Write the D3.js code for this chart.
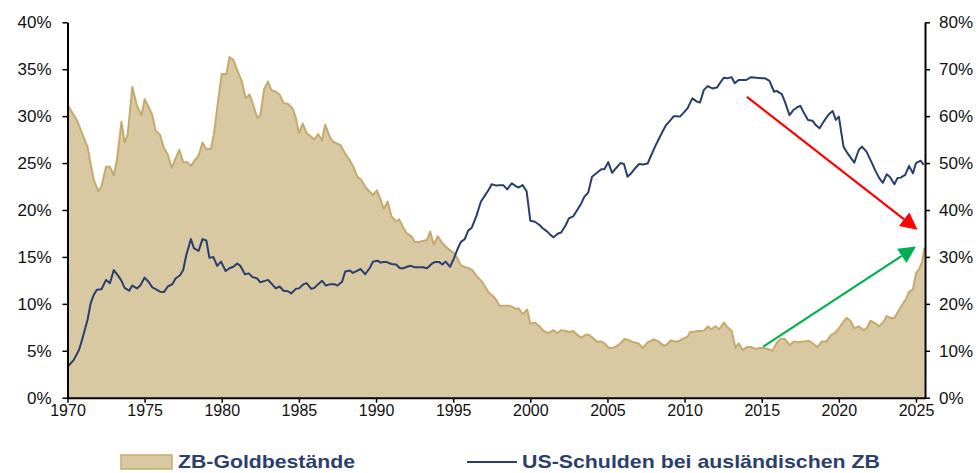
<!DOCTYPE html>
<html><head><meta charset="utf-8">
<script src="https://cdn.jsdelivr.net/npm/d3@7/dist/d3.min.js"></script>
<style>
html,body{margin:0;padding:0;background:#fff;}
svg{display:block;font-family:"Liberation Sans",Arial,sans-serif;}
</style></head><body>
<svg id="c" width="979" height="473"></svg>
<script>
// ---- data ----
const goldYears = [1970.0,1970.6,1971.3,1971.7,1972.0,1972.2,1972.5,1972.75,1973.0,1973.2,1973.5,1973.7,1973.9,1974.2,1974.5,1974.8,1975.0,1975.25,1975.5,1975.7,1976.0,1976.25,1976.5,1976.75,1977.0,1977.25,1977.5,1977.75,1978.0,1978.25,1978.5,1978.75,1979.0,1979.3,1979.5,1979.8,1980.0,1980.3,1980.5,1980.75,1981.0,1981.3,1981.55,1981.8,1982.0,1982.3,1982.5,1982.75,1983.0,1983.2,1983.5,1983.75,1984.0,1984.3,1984.6,1984.8,1985.0,1985.25,1985.5,1985.8,1986.0,1986.25,1986.5,1986.7,1987.0,1987.2,1987.45,1987.7,1988.0,1988.3,1988.5,1988.8,1989.0,1989.3,1989.5,1989.8,1990.05,1990.3,1990.5,1990.75,1991.0,1991.3,1991.5,1991.8,1992.0,1992.3,1992.5,1992.8,1993.0,1993.3,1993.5,1993.75,1994.0,1994.25,1994.5,1994.8,1995.05,1995.26,1995.5,1995.8,1996.0,1996.25,1996.5,1996.8,1997.05,1997.3,1997.6,1997.8,1998.0,1998.3,1998.6,1998.8,1999.0,1999.25,1999.5,1999.8,2000.0,2000.3,2000.6,2000.8,2001.1,2001.3,2001.5,2001.75,2002.0,2002.3,2002.5,2002.8,2003.0,2003.3,2003.6,2003.8,2004.1,2004.3,2004.6,2004.8,2005.1,2005.3,2005.6,2005.85,2006.1,2006.35,2006.7,2007.0,2007.3,2007.6,2008.0,2008.3,2008.6,2008.8,2009.1,2009.4,2009.6,2009.9,2010.2,2010.35,2010.6,2010.8,2011.1,2011.3,2011.5,2011.75,2012.0,2012.25,2012.55,2012.8,2013.05,2013.3,2013.5,2013.75,2014.05,2014.3,2014.6,2014.85,2015.1,2015.4,2015.7,2015.96,2016.2,2016.5,2016.8,2017.1,2017.4,2017.7,2018.1,2018.3,2018.6,2018.9,2019.2,2019.5,2019.75,2020.0,2020.3,2020.5,2020.75,2021.0,2021.3,2021.6,2021.8,2022.05,2022.4,2022.6,2022.9,2023.1,2023.35,2023.6,2023.85,2024.1,2024.35,2024.55,2024.8,2025.0,2025.2,2025.4,2025.55];
const goldValues = [31.2,29.6,26.7,23.2,22.0,22.5,24.6,24.6,23.7,25.3,29.4,27.2,28.0,33.1,31.1,30.1,31.8,31.0,30.1,28.5,28.0,26.6,25.9,24.5,25.5,26.4,25.1,25.1,24.7,25.3,25.8,27.2,26.5,26.5,28.2,32.1,34.5,34.5,36.3,36.0,34.9,33.7,31.9,32.3,31.4,29.8,30.1,32.9,33.7,32.8,32.6,32.3,31.4,31.3,30.8,29.8,28.2,29.2,28.2,27.8,27.5,28.1,27.4,29.1,27.8,27.3,27.1,26.9,26.0,25.3,24.7,23.5,23.3,22.5,22.1,21.6,22.1,21.1,20.1,20.9,19.3,18.8,19.0,18.0,17.5,17.2,16.6,16.6,16.7,16.8,17.7,16.3,17.2,16.6,16.1,15.7,15.4,14.9,14.1,13.9,13.8,13.6,13.0,12.5,11.9,11.2,10.8,10.4,9.8,9.8,9.8,9.7,9.5,9.5,8.9,9.4,7.9,8.0,7.6,7.2,6.9,7.0,7.2,6.9,7.2,7.1,7.0,7.1,6.75,6.4,6.7,6.7,6.3,6.0,6.0,5.8,5.3,5.3,5.5,5.8,6.25,6.15,5.9,5.8,5.3,5.9,6.2,6.0,5.6,5.6,6.1,6.0,6.0,6.3,6.5,7.0,7.0,7.1,7.1,7.2,7.6,7.3,7.6,7.3,8.0,7.5,7.1,5.3,5.8,5.1,5.4,5.4,5.2,5.3,5.3,5.2,5.0,5.8,6.25,6.25,5.6,6.0,5.9,6.0,6.05,5.8,5.4,6.0,6.0,6.7,6.9,7.4,8.1,8.5,8.2,7.4,7.6,7.2,7.4,8.2,7.9,7.6,8.1,8.7,8.5,8.5,9.2,9.9,10.5,11.3,11.55,13.25,13.7,14.5,16.0];

const debtYears = [1970.0,1970.4,1970.75,1971.0,1971.3,1971.5,1971.7,1971.9,1972.2,1972.5,1972.75,1973.0,1973.3,1973.5,1973.7,1974.0,1974.2,1974.5,1974.7,1975.0,1975.25,1975.5,1975.8,1976.0,1976.25,1976.5,1976.8,1977.0,1977.3,1977.5,1977.7,1978.0,1978.2,1978.5,1978.75,1979.0,1979.2,1979.45,1979.7,1979.95,1980.25,1980.5,1980.75,1981.0,1981.2,1981.5,1981.75,1982.0,1982.3,1982.5,1982.8,1983.0,1983.2,1983.5,1983.75,1984.0,1984.3,1984.5,1984.8,1985.0,1985.3,1985.5,1985.8,1986.0,1986.25,1986.5,1986.75,1987.05,1987.3,1987.5,1987.8,1988.0,1988.3,1988.5,1988.8,1989.0,1989.3,1989.6,1989.8,1990.1,1990.3,1990.5,1990.7,1991.0,1991.3,1991.55,1991.8,1992.0,1992.25,1992.5,1992.85,1993.05,1993.3,1993.6,1993.8,1994.1,1994.3,1994.5,1994.8,1995.05,1995.3,1995.5,1995.75,1995.97,1996.2,1996.5,1996.8,1997.0,1997.3,1997.5,1997.8,1998.0,1998.25,1998.5,1998.8,1999.05,1999.25,1999.5,1999.76,2000.0,2000.3,2000.6,2000.8,2001.1,2001.3,2001.5,2001.8,2002.0,2002.3,2002.5,2002.8,2003.0,2003.3,2003.5,2003.75,2004.0,2004.3,2004.6,2004.8,2005.05,2005.3,2005.55,2005.85,2006.07,2006.3,2006.56,2006.8,2007.05,2007.3,2007.6,2007.8,2008.1,2008.35,2008.6,2008.8,2009.1,2009.3,2009.5,2009.7,2009.9,2010.2,2010.5,2010.8,2011.0,2011.25,2011.5,2011.8,2012.1,2012.3,2012.55,2012.8,2013.05,2013.25,2013.5,2013.75,2014.0,2014.3,2014.65,2015.0,2015.2,2015.5,2015.8,2015.96,2016.3,2016.5,2016.8,2017.05,2017.3,2017.5,2017.75,2018.0,2018.3,2018.5,2018.75,2019.05,2019.35,2019.6,2019.8,2020.0,2020.3,2020.5,2020.8,2021.0,2021.3,2021.5,2021.8,2022.1,2022.35,2022.6,2022.85,2023.1,2023.3,2023.6,2023.8,2024.0,2024.3,2024.55,2024.8,2025.0,2025.3,2025.5];
const debtValues = [6.6,8.0,10.2,13.0,16.6,20.1,21.9,23.0,23.1,25.1,24.4,27.2,25.9,24.9,23.4,22.8,23.9,23.3,23.8,25.6,24.7,23.5,23.0,22.6,22.5,23.7,24.2,25.4,26.1,27.2,30.4,33.8,31.8,31.3,33.8,33.5,29.8,30.0,28.1,29.0,27.0,27.6,27.9,28.6,28.1,26.3,26.5,25.7,25.4,24.6,24.9,25.1,24.4,23.3,23.7,22.8,22.7,22.2,23.2,23.3,24.2,24.4,23.2,23.4,24.2,24.9,23.9,24.2,24.2,23.9,24.7,26.9,27.1,26.6,27.1,27.4,26.3,27.7,29.0,29.2,28.8,28.9,28.9,28.5,28.4,27.6,27.6,27.9,28.1,27.8,27.8,27.8,27.6,28.5,28.9,28.9,28.4,29.0,27.9,29.7,31.8,33.2,33.8,35.6,36.2,38.7,41.8,42.8,44.3,45.5,45.2,45.3,45.3,44.4,45.7,45.1,44.8,45.3,44.0,37.7,37.5,36.8,36.1,35.4,34.7,34.2,35.0,35.2,36.8,38.2,38.7,39.8,41.4,42.8,43.7,47.1,47.9,48.7,48.7,50.2,47.9,48.9,50.0,49.8,47.1,47.9,48.9,49.8,49.7,49.9,51.4,53.6,55.3,56.9,58.1,59.2,60.0,60.0,59.9,60.6,61.7,63.8,63.1,62.9,65.6,66.4,65.9,66.1,67.1,68.2,68.1,68.3,67.0,67.7,67.7,67.7,68.3,68.2,68.1,68.1,67.5,65.2,65.4,64.7,63.1,60.2,61.3,61.9,62.2,60.6,59.2,59.0,58.1,57.4,59.0,60.4,61.1,59.2,59.9,53.5,52.4,51.0,50.1,52.9,53.5,52.4,50.3,48.5,46.9,45.8,47.6,47.1,45.5,46.8,46.9,47.5,49.4,47.8,50.0,50.5,49.6];

const xTickYears = [1970,1975,1980,1985,1990,1995,2000,2005,2010,2015,2020,2025];
const leftTicks = [0,5,10,15,20,25,30,35,40];
const rightTicks = [0,10,20,30,40,50,60,70,80];
const legendLabels = ["ZB-Goldbestände","US-Schulden bei ausländischen ZB"];
// arrow annotations: [x0 year, right-axis %, x1 year, right-axis %]
const redArrow = [2014.04, 64.1, 2025.1, 35.8];
const greenArrow = [2015.1, 10.9, 2025.0, 32.2];

// ---- layout ----
const X0 = 67.5, X1 = 925, YT = 22.3, YB = 397.7;
const xDomainMax = 1970 + (X1 - X0) / ((916 - 67.5) / 55);
const x = d3.scaleLinear().domain([1970, xDomainMax]).range([X0, X1]);
const yL = d3.scaleLinear().domain([0, 40]).range([YB, YT]);
const yR = d3.scaleLinear().domain([0, 80]).range([YB, YT]);

const svg = d3.select("#c");
const GOLD_FILL = "#d8c9a3", GOLD_LINE = "#c5aa6c", NAVY = "#283e6d";

const gold = goldYears.map((y, i) => [y, goldValues[i]]);
const debt = debtYears.map((y, i) => [y, debtValues[i]]);

svg.append("path").datum(gold)
  .attr("d", d3.area().x(d => x(d[0])).y0(YB).y1(d => yL(d[1])))
  .attr("fill", GOLD_FILL);
svg.append("path").datum(gold)
  .attr("d", d3.line().x(d => x(d[0])).y(d => yL(d[1])))
  .attr("fill", "none").attr("stroke", GOLD_LINE).attr("stroke-width", 2).attr("stroke-linejoin", "round");

svg.append("path").datum(debt)
  .attr("d", d3.line().x(d => x(d[0])).y(d => yR(d[1])))
  .attr("fill", "none").attr("stroke", NAVY).attr("stroke-width", 2).attr("stroke-linejoin", "round");

// arrows
function arrow(a, color) {
  const x0 = x(a[0]), y0 = yR(a[1]), x1 = x(a[2]), y1 = yR(a[3]);
  const ang = Math.atan2(y1 - y0, x1 - x0);
  const L = 17, W = 8.5;
  const bx = x1 - L * Math.cos(ang), by = y1 - L * Math.sin(ang);
  svg.append("line").attr("x1", x0).attr("y1", y0).attr("x2", bx).attr("y2", by)
    .attr("stroke", color).attr("stroke-width", 2.2);
  const px = -Math.sin(ang), py = Math.cos(ang);
  svg.append("path")
    .attr("d", `M${x1},${y1}L${bx + W * px},${by + W * py}L${bx - W * px},${by - W * py}Z`)
    .attr("fill", color);
}
arrow(redArrow, "#ff0000");
arrow(greenArrow, "#00b050");

// axes
const gx = svg.append("g").attr("transform", `translate(0,${YB})`)
  .call(d3.axisBottom(x).tickValues(xTickYears).tickFormat(d3.format("d")).tickSize(5).tickSizeOuter(0));
const gl = svg.append("g").attr("transform", `translate(${X0},0)`)
  .call(d3.axisLeft(yL).tickValues(leftTicks).tickFormat(d => d + "%").tickSize(5).tickSizeOuter(0));
const gr = svg.append("g").attr("transform", `translate(${X1},0)`)
  .call(d3.axisRight(yR).tickValues(rightTicks).tickFormat(d => d + "%").tickSize(5).tickSizeOuter(0));
[gx, gl, gr].forEach(g => {
  g.select(".domain").attr("stroke", "#000").attr("stroke-width", 2);
  g.selectAll(".tick line").attr("stroke", "#000").attr("stroke-width", 1.5);
  g.selectAll("text").attr("fill", "#111")
    .style("font-family", "'Liberation Sans', Arial, sans-serif");
});
gx.selectAll("text").style("font-size", "16px").attr("dy", "0.71em").attr("y", 7);
gl.selectAll("text").style("font-size", "17px").attr("x", -16);
gr.selectAll("text").style("font-size", "17px").attr("x", 14);

// legend
const lg = svg.append("g");
lg.append("rect").attr("x", 121).attr("y", 455).attr("width", 51).attr("height", 14)
  .attr("fill", GOLD_FILL).attr("stroke", GOLD_LINE).attr("stroke-width", 1.5);
lg.append("text").attr("x", 178).attr("y", 468).text(legendLabels[0])
  .attr("fill", "#2b3f6e").style("font-weight", "bold").style("font-size", "19px")
  .attr("textLength", 177).attr("lengthAdjust", "spacingAndGlyphs");
lg.append("line").attr("x1", 467).attr("x2", 517).attr("y1", 462).attr("y2", 462)
  .attr("stroke", NAVY).attr("stroke-width", 2);
lg.append("text").attr("x", 522).attr("y", 468).text(legendLabels[1])
  .attr("fill", "#2b3f6e").style("font-weight", "bold").style("font-size", "19px")
  .attr("textLength", 358).attr("lengthAdjust", "spacingAndGlyphs");
</script>
</body></html>
